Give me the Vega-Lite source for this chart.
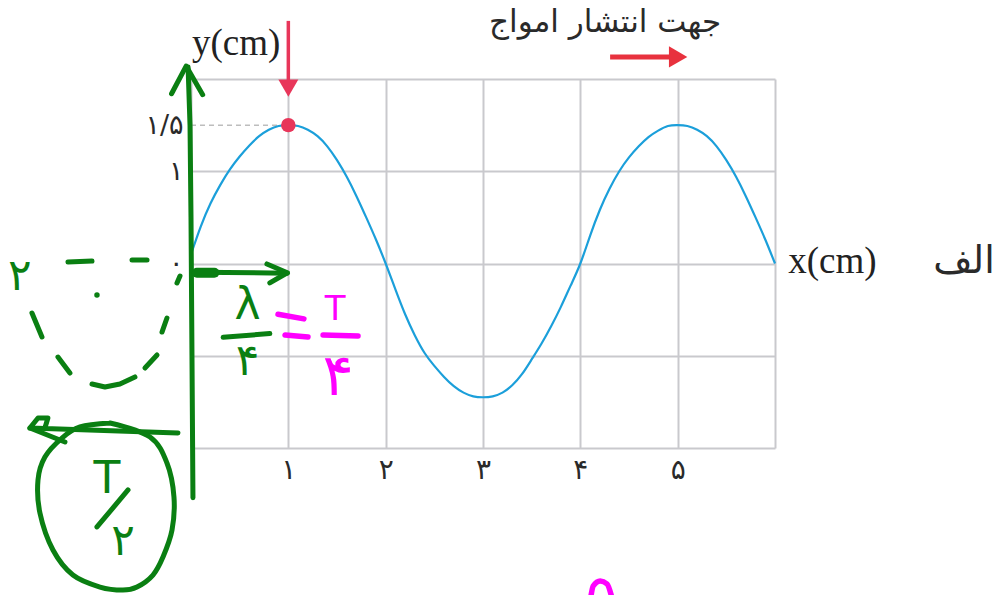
{
  "$schema": "https://vega.github.io/schema/vega-lite/v6.json",
  "width": 584,
  "height": 369,
  "autosize": {"type": "none"},
  "padding": {"left": 191, "top": 79, "right": 224, "bottom": 147},
  "background": "white",
  "config": {"view": {"stroke": null}},
  "encoding": {
    "x": {
      "field": "x", "type": "quantitative",
      "scale": {"domain": [0, 6], "nice": false, "zero": false},
      "axis": {
        "values": [0, 1, 2, 3, 4, 5, 6],
        "grid": true, "gridColor": "#c9c9cd", "gridWidth": 2,
        "domain": false, "ticks": false, "labelOverlap": false, "labelFlush": false,
        "labelExpr": "datum.value==1?'۱':datum.value==2?'۲':datum.value==3?'۳':datum.value==4?'۴':datum.value==5?'۵':''",
        "labelFont": "DejaVu Sans", "labelFontSize": 28, "labelColor": "#2a2a2a", "labelPadding": 8,
        "title": null
      }
    },
    "y": {
      "field": "y", "type": "quantitative",
      "scale": {"domain": [-2, 2], "nice": false, "zero": false},
      "axis": {
        "values": [-2, -1, 0, 1, 1.5, 2],
        "grid": true, "gridColor": "#c9c9cd", "gridWidth": 2,
        "gridOpacity": {"condition": {"test": "datum.value == 1.5", "value": 0}, "value": 1},
        "domain": false, "ticks": false, "labelOverlap": false, "labelFlush": false,
        "labelExpr": "datum.value==1.5?'۱/۵':datum.value==1?'۱':datum.value==0?'۰':''",
        "labelFont": "DejaVu Sans", "labelFontSize": 27, "labelColor": "#2a2a2a", "labelPadding": 8,
        "title": null
      }
    }
  },
  "layer": [
    {
      "data": {"values": [{"x": 0, "y": 1.5}, {"x": 1, "y": 1.5}]},
      "mark": {"type": "line", "color": "#bdbdbd", "strokeWidth": 1.5, "strokeDash": [5, 4]}
    },
    {
      "data": {"values": [
        {"x": 0, "y": 0.1}, {"x": 0.1, "y": 0.4}, {"x": 0.2, "y": 0.65}, {"x": 0.3, "y": 0.85},
        {"x": 0.4, "y": 1.02}, {"x": 0.5, "y": 1.16}, {"x": 0.6, "y": 1.28}, {"x": 0.7, "y": 1.38},
        {"x": 0.8, "y": 1.45}, {"x": 0.9, "y": 1.49}, {"x": 1, "y": 1.5},
        {"x": 1.1, "y": 1.49}, {"x": 1.2, "y": 1.45}, {"x": 1.3, "y": 1.38}, {"x": 1.4, "y": 1.27},
        {"x": 1.5, "y": 1.12}, {"x": 1.6, "y": 0.94}, {"x": 1.7, "y": 0.73}, {"x": 1.8, "y": 0.5},
        {"x": 1.9, "y": 0.26}, {"x": 2, "y": 0},
        {"x": 2.1, "y": -0.28}, {"x": 2.2, "y": -0.55}, {"x": 2.3, "y": -0.78}, {"x": 2.4, "y": -0.97},
        {"x": 2.5, "y": -1.11}, {"x": 2.6, "y": -1.23}, {"x": 2.7, "y": -1.33}, {"x": 2.8, "y": -1.4},
        {"x": 2.9, "y": -1.44}, {"x": 3, "y": -1.45},
        {"x": 3.1, "y": -1.44}, {"x": 3.2, "y": -1.4}, {"x": 3.3, "y": -1.32}, {"x": 3.4, "y": -1.2},
        {"x": 3.5, "y": -1.04}, {"x": 3.6, "y": -0.87}, {"x": 3.7, "y": -0.68}, {"x": 3.8, "y": -0.47},
        {"x": 3.9, "y": -0.24}, {"x": 4, "y": 0},
        {"x": 4.1, "y": 0.3}, {"x": 4.2, "y": 0.58}, {"x": 4.3, "y": 0.81}, {"x": 4.4, "y": 1.0},
        {"x": 4.5, "y": 1.15}, {"x": 4.6, "y": 1.27}, {"x": 4.7, "y": 1.37}, {"x": 4.8, "y": 1.44},
        {"x": 4.9, "y": 1.49}, {"x": 5, "y": 1.5},
        {"x": 5.1, "y": 1.49}, {"x": 5.2, "y": 1.45}, {"x": 5.3, "y": 1.38}, {"x": 5.4, "y": 1.27},
        {"x": 5.5, "y": 1.12}, {"x": 5.6, "y": 0.94}, {"x": 5.7, "y": 0.73}, {"x": 5.8, "y": 0.5},
        {"x": 5.9, "y": 0.26}, {"x": 6, "y": 0}
      ]},
      "mark": {"type": "line", "color": "#1b9fda", "strokeWidth": 2.2, "interpolate": "natural"}
    },
    {
      "data": {"values": [{"x": 1, "y": 2.63}, {"x": 1, "y": 1.97}]},
      "mark": {"type": "line", "color": "#e8365a", "strokeWidth": 3.5}
    },
    {
      "data": {"values": [{"x": 1, "y": 1.902}]},
      "mark": {"type": "point", "shape": "triangle-down", "filled": true, "opacity": 1, "color": "#e8365a", "size": 400}
    },
    {
      "data": {"values": [{"x": 1, "y": 1.5}]},
      "mark": {"type": "point", "shape": "circle", "filled": true, "opacity": 1, "color": "#e8365a", "size": 210}
    },
    {
      "data": {"values": [{"x": 4.306, "y": 2.239}, {"x": 4.943, "y": 2.239}]},
      "mark": {"type": "line", "color": "#e8323e", "strokeWidth": 5}
    },
    {
      "data": {"values": [{"x": 5.005, "y": 2.239}]},
      "mark": {"type": "point", "shape": "triangle-right", "filled": true, "opacity": 1, "color": "#e8323e", "size": 450}
    },
    {
      "data": {"values": [
        {"s": "axis", "i": 0, "x": -0.03, "y": 2.13}, {"s": "axis", "i": 1, "x": -0.01, "y": 1.5},
        {"s": "axis", "i": 2, "x": 0.0, "y": 0.5}, {"s": "axis", "i": 3, "x": 0.01, "y": -1},
        {"s": "axis", "i": 4, "x": 0.02, "y": -2.54},
        {"s": "head", "i": 0, "x": -0.2, "y": 1.84}, {"s": "head", "i": 1, "x": -0.05, "y": 2.14},
        {"s": "head", "i": 2, "x": 0.12, "y": 1.83},
        {"s": "shaft", "i": 0, "x": 0.06, "y": -0.095}, {"s": "shaft", "i": 1, "x": 0.99, "y": -0.105},
        {"s": "tip", "i": 0, "x": 0.78, "y": -0.005}, {"s": "tip", "i": 1, "x": 0.99, "y": -0.1},
        {"s": "tip", "i": 2, "x": 0.81, "y": -0.21},
        {"s": "bar", "i": 0, "x": 0.33, "y": -0.8}, {"s": "bar", "i": 1, "x": 0.81, "y": -0.76},
        {"s": "d1", "i": 0, "x": -1.264, "y": 0.016}, {"s": "d1", "i": 1, "x": -1.017, "y": 0.027},
        {"s": "d2", "i": 0, "x": -0.606, "y": 0.038}, {"s": "d2", "i": 1, "x": -0.452, "y": 0.038},
        {"s": "d3", "i": 0, "x": -1.634, "y": -0.537}, {"s": "d3", "i": 1, "x": -1.531, "y": -0.797},
        {"s": "d4", "i": 0, "x": -1.367, "y": -1.014}, {"s": "d4", "i": 1, "x": -1.244, "y": -1.187},
        {"s": "d5", "i": 0, "x": -1.017, "y": -1.306}, {"s": "d5", "i": 1, "x": -0.884, "y": -1.339},
        {"s": "d5", "i": 2, "x": -0.73, "y": -1.306}, {"s": "d5", "i": 3, "x": -0.576, "y": -1.23},
        {"s": "d6", "i": 0, "x": -0.473, "y": -1.133}, {"s": "d6", "i": 1, "x": -0.349, "y": -0.992},
        {"s": "d7", "i": 0, "x": -0.298, "y": -0.743}, {"s": "d7", "i": 1, "x": -0.247, "y": -0.591},
        {"s": "d8", "i": 0, "x": -0.144, "y": -0.211}, {"s": "d8", "i": 1, "x": -0.113, "y": -0.136},
        {"s": "base", "i": 0, "x": -0.134, "y": -1.837}, {"s": "base", "i": 1, "x": -1.655, "y": -1.783},
        {"s": "base", "i": 2, "x": -1.572, "y": -1.675}, {"s": "base", "i": 3, "x": -1.47, "y": -1.675},
        {"s": "base", "i": 4, "x": -1.501, "y": -1.783},
        {"s": "flick", "i": 0, "x": -1.655, "y": -1.783}, {"s": "flick", "i": 1, "x": -1.295, "y": -1.935},
        {"s": "slash", "i": 0, "x": -0.966, "y": -2.856}, {"s": "slash", "i": 1, "x": -0.647, "y": -2.455}
      ]},
      "mark": {"type": "line", "color": "#0a7f12", "strokeWidth": 5, "strokeCap": "round", "strokeJoin": "round"},
      "encoding": {"detail": {"field": "s"}, "order": {"field": "i", "type": "quantitative"}}
    },
    {
      "data": {"values": [{"x": 0.06, "y": -0.1}, {"x": 0.24, "y": -0.1}]},
      "mark": {"type": "line", "color": "#0a7f12", "strokeWidth": 10, "strokeCap": "round"}
    },
    {
      "data": {"values": [
        {"i": 0, "x": -0.832, "y": -1.729}, {"i": 1, "x": -0.421, "y": -1.881},
        {"i": 2, "x": -0.247, "y": -2.163}, {"i": 3, "x": -0.175, "y": -2.531},
        {"i": 4, "x": -0.195, "y": -2.889}, {"i": 5, "x": -0.288, "y": -3.182},
        {"i": 6, "x": -0.391, "y": -3.377}, {"i": 7, "x": -0.555, "y": -3.507},
        {"i": 8, "x": -0.699, "y": -3.54}, {"i": 9, "x": -0.935, "y": -3.507},
        {"i": 10, "x": -1.213, "y": -3.377}, {"i": 11, "x": -1.418, "y": -3.106},
        {"i": 12, "x": -1.552, "y": -2.705}, {"i": 13, "x": -1.572, "y": -2.347},
        {"i": 14, "x": -1.501, "y": -2.098}, {"i": 15, "x": -1.326, "y": -1.892},
        {"i": 16, "x": -1.141, "y": -1.772}, {"i": 17, "x": -0.832, "y": -1.729}
      ]},
      "mark": {"type": "line", "color": "#0a7f12", "strokeWidth": 5, "interpolate": "cardinal", "strokeCap": "round"},
      "encoding": {"order": {"field": "i", "type": "quantitative"}}
    },
    {
      "data": {"values": [{"x": -0.966, "y": -0.341}]},
      "mark": {"type": "point", "shape": "circle", "filled": true, "opacity": 1, "color": "#0a7f12", "size": 30}
    },
    {
      "data": {"values": [
        {"s": "eq1", "i": 0, "x": 0.894, "y": -0.55}, {"s": "eq1", "i": 1, "x": 1.16, "y": -0.6},
        {"s": "eq2", "i": 0, "x": 0.966, "y": -0.775}, {"s": "eq2", "i": 1, "x": 1.202, "y": -0.797},
        {"s": "bar", "i": 0, "x": 1.357, "y": -0.775}, {"s": "bar", "i": 1, "x": 1.716, "y": -0.786},
        {"s": "loop", "i": 0, "x": 4.111, "y": -3.594}, {"s": "loop", "i": 1, "x": 4.132, "y": -3.496},
        {"s": "loop", "i": 2, "x": 4.204, "y": -3.442}, {"s": "loop", "i": 3, "x": 4.275, "y": -3.474},
        {"s": "loop", "i": 4, "x": 4.317, "y": -3.594}
      ]},
      "mark": {"type": "line", "color": "#ff00ff", "strokeWidth": 5.5, "strokeCap": "round", "interpolate": "monotone"},
      "encoding": {"detail": {"field": "s"}, "order": {"field": "i", "type": "quantitative"}}
    },
    {
      "data": {"values": [
        {"x": 0.58, "y": -0.46, "t": "λ"}, {"x": 0.58, "y": -1.07, "t": "۴"},
        {"x": -1.76, "y": -0.15, "t": "۲"}, {"x": -0.863, "y": -2.347, "t": "T"},
        {"x": -0.699, "y": -3.019, "t": "۲"}
      ]},
      "mark": {"type": "text", "font": "DejaVu Sans", "fontSize": 44, "color": "#0a7f12", "align": "center", "baseline": "middle"},
      "encoding": {"text": {"field": "t"}}
    },
    {
      "data": {"values": [{"x": 1.48, "y": -0.504, "t": "T"}]},
      "mark": {"type": "text", "font": "DejaVu Sans", "fontSize": 34, "color": "#ff00ff", "align": "center", "baseline": "middle"},
      "encoding": {"text": {"field": "t"}}
    },
    {
      "data": {"values": [{"x": 1.511, "y": -1.241, "t": "۴"}]},
      "mark": {"type": "text", "font": "DejaVu Sans", "fontSize": 58, "color": "#ff00ff", "align": "center", "baseline": "middle"},
      "encoding": {"text": {"field": "t"}}
    },
    {
      "data": {"values": [{"x": 0.01, "y": 2.26, "t": "y(cm)"}, {"x": 6.136, "y": -0.103, "t": "x(cm)"}]},
      "mark": {"type": "text", "font": "Liberation Serif", "fontSize": 37, "color": "#222222", "align": "left", "baseline": "alphabetic"},
      "encoding": {"text": {"field": "t"}}
    },
    {
      "data": {"values": [{"x": 7.626, "y": -0.103, "t": "الف"}]},
      "mark": {"type": "text", "font": "DejaVu Sans", "fontSize": 38, "color": "#2a2a2a", "align": "left", "baseline": "alphabetic"},
      "encoding": {"text": {"field": "t"}}
    },
    {
      "data": {"values": [{"x": 4.255, "y": 2.51, "t": "جهت انتشار امواج"}]},
      "mark": {"type": "text", "font": "DejaVu Sans", "fontSize": 31, "color": "#2a2a2a", "align": "center", "baseline": "alphabetic"},
      "encoding": {"text": {"field": "t"}}
    }
  ]
}
